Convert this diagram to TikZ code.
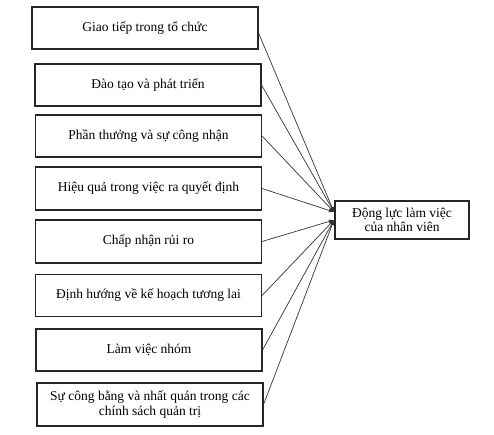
\documentclass[tikz,border=0pt]{standalone}
\usepackage{fontspec}
\setmainfont{Liberation Serif}
\usetikzlibrary{arrows.meta,calc}
\begin{document}
\begin{tikzpicture}[x=1pt,y=-1pt,
  factor/.style={draw=black!85,line width=1.1pt,minimum width=226pt,minimum height=42pt,inner sep=2pt,align=center,font=\fontsize{13.5}{14.5}\selectfont},
  target/.style={draw=black!85,line width=1.1pt,minimum width=134pt,minimum height=38pt,inner sep=2pt,align=center,font=\fontsize{13.5}{14.5}\selectfont},
  link/.style={draw=black!80,line width=0.7pt,-{Latex[length=5pt,width=4pt]}}]
\useasboundingbox (0,0) rectangle (494,435);
\node[factor] (b1) at (145,28) {Giao tiếp trong tổ chức};
\node[factor] (b2) at (148,85) {Đào tạo và phát triển};
\node[factor] (b3) at (148.5,136) {Phần thưởng và sự công nhận};
\node[factor,minimum height=43pt] (b4) at (148.5,188.5) {Hiệu quả trong việc ra quyết định};
\node[factor,minimum height=43pt] (b5) at (148.5,241.5) {Chấp nhận rủi ro};
\node[factor] (b6) at (148.5,295.5) {Định hướng về kế hoạch tương lai};
\node[factor] (b7) at (149,350) {Làm việc nhóm};
\node[factor,minimum height=43pt] (b8) at (150,404.5) {Sự công bằng và nhất quán trong các\\chính sách quản trị};
\node[target] (t) at (402,220) {Động lực làm việc\\của nhân viên};
\coordinate (ta) at (334,212);
\coordinate (tb) at (334,220);
\draw[link] ($(b1.east)+(0,5)$) -- (ta);
\draw[link] (b2.east) -- (ta);
\draw[link] (b3.east) -- (ta);
\draw[link] (b4.east) -- (ta);
\draw[link] (b5.east) -- (tb);
\draw[link] (b6.east) -- (tb);
\draw[link] (b7.east) -- (tb);
\draw[link] (b8.east) -- (tb);
\end{tikzpicture}
\end{document}
